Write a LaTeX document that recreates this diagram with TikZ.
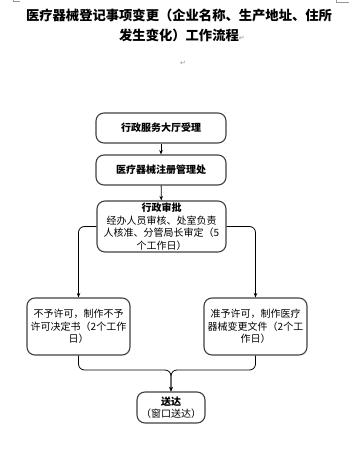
\documentclass[tikz,border=0pt]{standalone}
\usepackage{fontspec}
\usepackage{xcolor}
\usepackage{tikz}
\usetikzlibrary{arrows.meta}
\newfontfamily\cjk{Noto Sans CJK SC}
\newfontfamily\symfont{DejaVu Sans}
\definecolor{boxgray}{RGB}{64, 64, 64}
\definecolor{markgray}{RGB}{150, 150, 150}
\tikzset{
  stepbox/.style={draw=boxgray, line width=1.1pt, rounded corners=8pt, align=center,
    inner sep=1pt, font=\cjk\fontsize{10}{12.5}\selectfont},
  flow/.style={draw=black, line width=0.8pt, ->},
  parmark/.style={text=markgray, font=\symfont\fontsize{7}{7}\selectfont, inner sep=0pt}
}

\begin{document}
\begin{tikzpicture}[x=1pt, y=-1pt, >={Stealth[length=4.5pt, width=3.5pt]}]
\useasboundingbox (0,0) rectangle (349,454);

% Page corner marks
\draw[markgray, line width=0.5pt] (13,0) -- (13,1.5) -- (20,1.5);
\draw[markgray, line width=0.5pt] (336,0) -- (336,2) -- (349,2);

% Title
\node[align=center, inner sep=0pt, font=\cjk\bfseries\fontsize{13.3}{20}\selectfont] (title) at (179,25)
  {医疗器械登记事项变更（企业名称、生产地址、住所\\发生变化）工作流程\rlap{\symfont\mdseries\color{markgray}\fontsize{7}{7}\selectfont ↵}};
\node[parmark] (blank) at (183,63) {↵};

% Steps
\node[stepbox, minimum width=130pt, minimum height=30pt] (accept) at (161,128) {\textbf{行政服务大厅受理}};
\node[stepbox, minimum width=130pt, minimum height=30pt] (office) at (161,170) {\textbf{医疗器械注册管理处}};
\node[stepbox, minimum width=129pt, minimum height=51pt] (approve) at (161.5,226.5)
  {\textbf{行政审批}\\经办人员审核、处室负责\\人核准、分管局长审定（5\\个工作日）};

% Outcomes
\node[stepbox, minimum width=103pt, minimum height=57pt] (deny) at (78.5,326.5)
  {不予许可，制作不予\\许可决定书（2个工作\\日）};
\node[stepbox, minimum width=103pt, minimum height=57pt] (grant) at (255.5,326.5)
  {准予许可，制作医疗\\器械变更文件（2个工\\作日）};

% Delivery
\node[stepbox, minimum width=68pt, minimum height=31pt] (send) at (171,407.5)
  {\textbf{送达}\\（窗口送达）};
\coordinate (join) at (171,370);

% Connectors
\draw[flow] (accept) -- (office);
\draw[flow] (office) -- (approve);
\draw[flow, rounded corners=6pt] (approve.west) -| (deny.north);
\draw[flow, rounded corners=6pt] (approve.east) -| (grant.north);
\draw[flow, rounded corners=6pt] (deny.south) |- (join) -- (send.north);
\draw[flow, rounded corners=6pt] (grant.south) |- (join) -- (send.north);
\end{tikzpicture}
\end{document}
